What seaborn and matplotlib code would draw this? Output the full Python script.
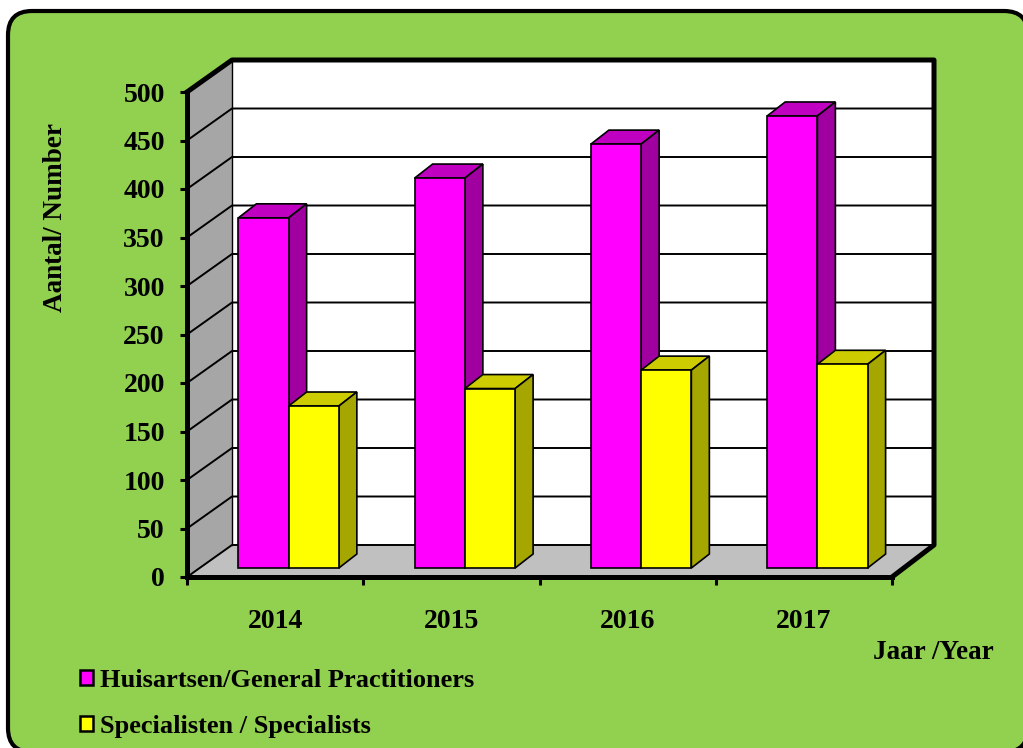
import matplotlib.pyplot as plt
from matplotlib.patches import FancyBboxPatch, Polygon
import pandas as pd
import seaborn as sns

years = ['2014', '2015', '2016', '2017']
huisartsen = [361, 402, 437, 466]
specialisten = [167, 185, 204, 210]
label_h = 'Huisartsen/General Practitioners'
label_s = 'Specialisten / Specialists'
y_ticks = [0, 50, 100, 150, 200, 250, 300, 350, 400, 450, 500]

df = pd.DataFrame({
    'jaar': years * 2,
    'aantal': huisartsen + specialisten,
    'serie': [label_h] * 4 + [label_s] * 4,
})

sns.set_theme(style='white')
plt.rcParams['font.family'] = ['Liberation Serif', 'DejaVu Serif']
plt.rcParams['font.weight'] = 'bold'

W, H = 1023, 748
fig = plt.figure(figsize=(W / 100, H / 100), dpi=100, facecolor='white')

# groene achtergrond, loopt rechts en onder net uit beeld
fig.add_artist(FancyBboxPatch((8, H - 752), 1020, 741,
                              boxstyle='round,pad=0,rounding_size=24',
                              fc='#92D050', ec='black', lw=3, transform=None, zorder=-1))

# voorvlak van de grafiek in pixels
left, right, bottom, top = 187, 892, 577, 92
ax = fig.add_axes([left / W, 1 - bottom / H, (right - left) / W, (bottom - top) / H])
ax.patch.set_visible(False)

sns.barplot(df, x='jaar', y='aantal', hue='serie', ax=ax, width=0.57, gap=0,
            palette={label_h: '#FF00FF', label_s: '#FFFF00'},
            edgecolor='black', linewidth=1.2, saturation=1)
ax.set_xlim(-0.5, 3.5)
ax.set_ylim(0, 500)

px_x = (right - left) / 4  # pixels per jaar
px_y = (bottom - top) / 500  # pixels per eenheid
wall_dx, wall_dy = 45 / px_x, 32 / px_y  # diepte van de vloer
bar_dx, bar_dy = 18 / px_x, 14 / px_y  # diepte van een balk
lift_x, lift_y = 13.5 / px_x, 9 / px_y  # balken staan midden op de vloer
x0, x1 = -0.5, 3.5
x_back = x1 + 42 / px_x  # rechterkant achterwand


def poly(points, fc, z, ec='none', lw=0):
    ax.add_patch(Polygon(points, closed=True, fc=fc, ec=ec, lw=lw, zorder=z, clip_on=False))


def line(xs, ys, lw, z=1.5):
    ax.plot(xs, ys, color='black', lw=lw, zorder=z, clip_on=False, solid_capstyle='projecting')


# wanden en vloer
poly([(x0 + wall_dx, wall_dy), (x_back, wall_dy), (x_back, 500 + wall_dy), (x0 + wall_dx, 500 + wall_dy)], 'white', 1)
poly([(x0, 0), (x0 + wall_dx, wall_dy), (x0 + wall_dx, 500 + wall_dy), (x0, 500)], '#A6A6A6', 1)
poly([(x0, 0), (x1, 0), (x_back, wall_dy), (x0 + wall_dx, wall_dy)], '#C0C0C0', 1)

for v in y_ticks[:-1]:
    line([x0, x0 + wall_dx, x_back], [v, v + wall_dy, v + wall_dy], 1.4)
line([x0 + wall_dx, x0 + wall_dx], [wall_dy, 500 + wall_dy], 1)
line([x0, x0 + wall_dx, x_back, x_back, x1], [500, 500 + wall_dy, 500 + wall_dy, wall_dy, 0], 3.6)

# 3D zijkanten van de balken
faces = [('#C000C0', '#A000A0'), ('#CCCC00', '#A6A600')]
for s, bars in enumerate(ax.containers):
    for i, bar in enumerate(bars):
        z = 3 + i + s * 0.5
        bar.set_x(bar.get_x() + lift_x)
        bar.set_y(lift_y)
        bar.set_clip_on(False)
        bar.set_zorder(z + 0.1)
        xa, xb = bar.get_x(), bar.get_x() + bar.get_width()
        ya, yb = lift_y, lift_y + bar.get_height()
        poly([(xa, yb), (xb, yb), (xb + bar_dx, yb + bar_dy), (xa + bar_dx, yb + bar_dy)],
             faces[s][0], z, 'black', 1.2)
        poly([(xb, ya), (xb + bar_dx, ya + bar_dy), (xb + bar_dx, yb + bar_dy), (xb, yb)],
             faces[s][1], z, 'black', 1.2)

# assen
for name in ['top', 'right']:
    ax.spines[name].set_visible(False)
for name in ['left', 'bottom']:
    ax.spines[name].set_linewidth(3.6)
    ax.spines[name].set_color('black')
    ax.spines[name].set_zorder(20)

ax.set_yticks(y_ticks)
ax.tick_params(axis='y', which='major', left=True, length=5, width=2.2, color='black',
               labelsize=20, pad=11, labelcolor='black')
ax.set_xticks([-0.5, 0.5, 1.5, 2.5, 3.5], labels=[])
ax.set_xticks([0, 1, 2, 3], labels=years, minor=True)
ax.tick_params(axis='x', which='major', bottom=True, length=6, width=2.2, color='black')
ax.tick_params(axis='x', which='minor', bottom=False, labelsize=20, pad=19, labelcolor='black')

ax.set_ylabel('Aantal/ Number', fontsize=19.5, fontweight='bold', color='black')
ax.yaxis.set_label_coords((68 - left) / (right - left), (bottom - 217) / (bottom - top))
ax.set_xlabel('Jaar /Year', fontsize=19.5, fontweight='bold', color='black')
ax.xaxis.set_label_coords((933 - left) / (right - left), (bottom - 640) / (bottom - top))

# legenda
handles, labels = ax.get_legend_handles_labels()
ax.get_legend().remove()
leg = fig.legend(handles, labels, loc='upper left', bbox_to_anchor=(67 / W, 1 - 656 / H),
                 frameon=False, fontsize=19, handlelength=0.5, handleheight=0.5,
                 handletextpad=0.25, labelspacing=0.87, borderpad=0, labelcolor='black')
for h in leg.legend_handles:
    h.set_edgecolor('black')
    h.set_linewidth(1.8)

fig.savefig('out.png', dpi=100)
